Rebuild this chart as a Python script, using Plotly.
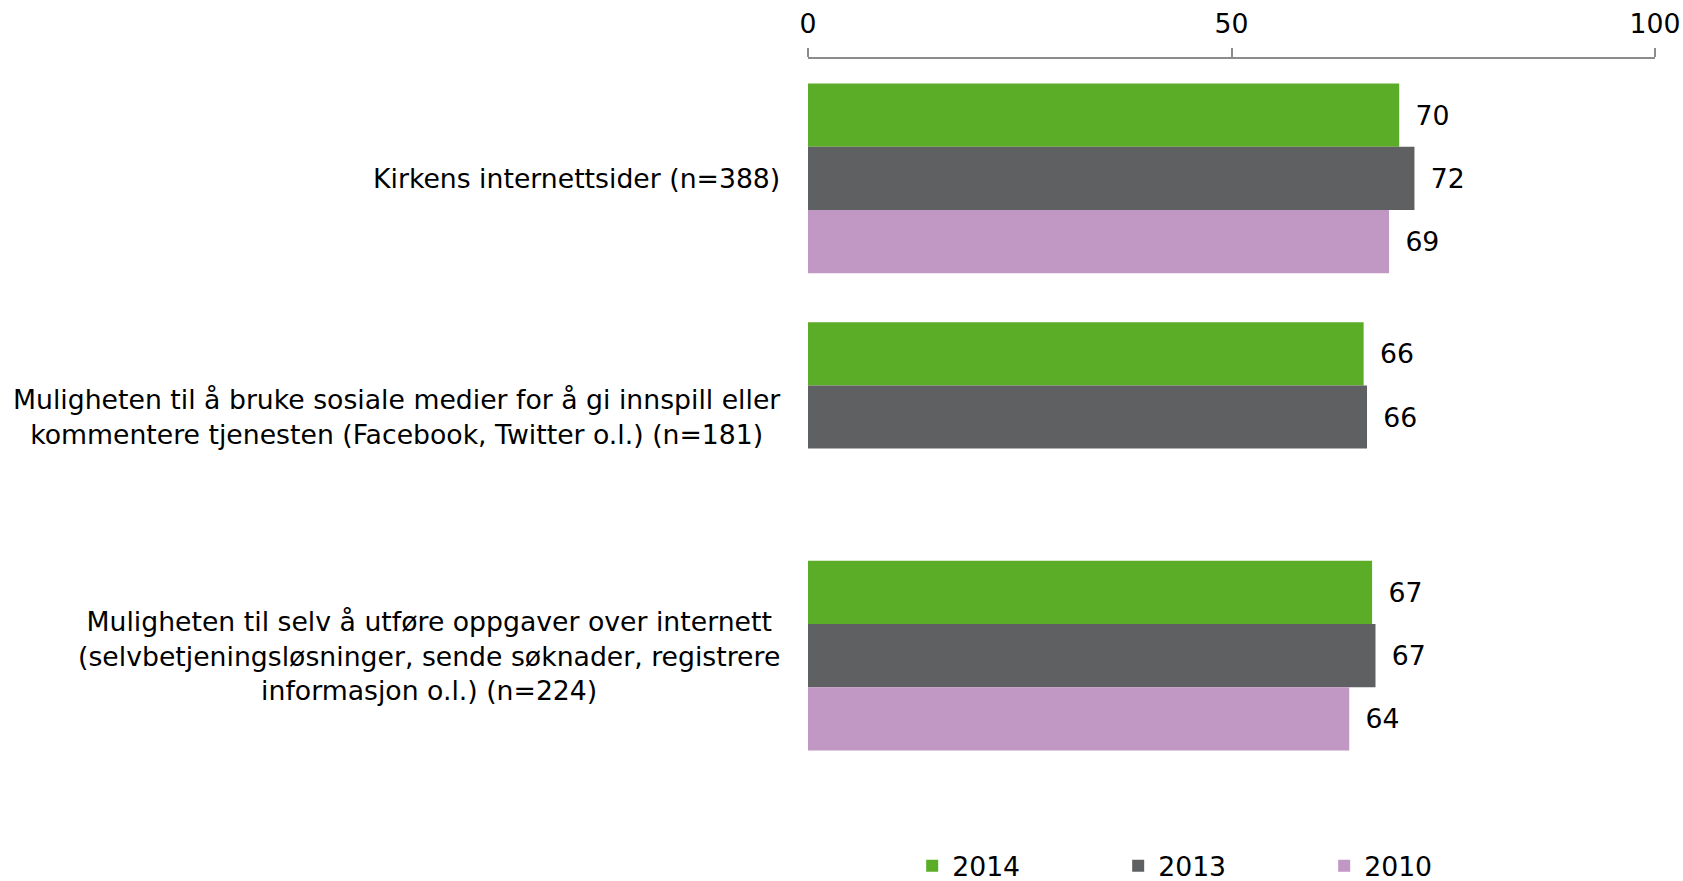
import plotly.graph_objects as go

categories = [
    "Kirkens internettsider (n=388)",
    "Muligheten til å bruke sosiale medier for å gi innspill eller<br>kommentere tjenesten (Facebook, Twitter o.l.) (n=181)",
    "Muligheten til selv å utføre oppgaver over internett<br>(selvbetjeningsløsninger, sende søknader, registrere<br>informasjon o.l.) (n=224)",
]
series_names = ["2014", "2013", "2010"]
values_2014 = [69.8, 65.6, 66.6]
values_2013 = [71.6, 66.0, 67.0]
values_2010 = [68.6, None, 63.9]
colors = ["#5BAD28", "#5F6062", "#C197C4"]
x_ticks = [0, 50, 100]

FONT = "DejaVu Sans"
FS = 26.7

fig = go.Figure()
for name, vals, col in zip(series_names, [values_2014, values_2013, values_2010], colors):
    fig.add_trace(go.Bar(
        y=categories, x=vals, name=name, orientation="h",
        marker=dict(color=col, line=dict(width=0)),
        texttemplate="\u2002%{x:.0f}",
        textposition="outside",
        textfont=dict(family=FONT, size=FS, color="black"),
        cliponaxis=False,
    ))

for cat in categories:
    fig.add_annotation(
        text=cat, xref="paper", yref="y", x=0, y=cat,
        xanchor="right", yanchor="middle", xshift=-26, align="center",
        showarrow=False, font=dict(family=FONT, size=FS, color="black"),
    )

fig.update_layout(
    width=1683, height=881,
    margin=dict(l=808, r=28, t=59, b=106, autoexpand=False),
    paper_bgcolor="white", plot_bgcolor="white",
    barmode="group", bargap=0.205, bargroupgap=0,
    font=dict(family=FONT, size=FS, color="black"),
    showlegend=True,
    legend=dict(
        orientation="h", x=0.123, xanchor="left", y=-0.127, yanchor="middle",
        font=dict(family=FONT, size=FS, color="black"),
        entrywidth=161, traceorder="normal",
    ),
)
fig.update_xaxes(
    side="top", range=[0, 100], tickvals=x_ticks, ticktext=[str(t) for t in x_ticks],
    ticks="outside", ticklen=9, tickcolor="#8C8C8C", tickwidth=1.5,
    showline=True, linecolor="#8C8C8C", linewidth=1.5,
    showgrid=False, zeroline=False, ticklabelstandoff=5,
    tickfont=dict(family=FONT, size=FS, color="black"),
)
fig.update_yaxes(
    categoryorder="array", categoryarray=categories, autorange="reversed",
    showticklabels=False, ticks="", showline=False, showgrid=False, zeroline=False,
)

fig.write_html(
    "out.html",
    config={"displayModeBar": False},
    post_script="document.body.style.margin='0';document.body.style.overflow='hidden';",
)
